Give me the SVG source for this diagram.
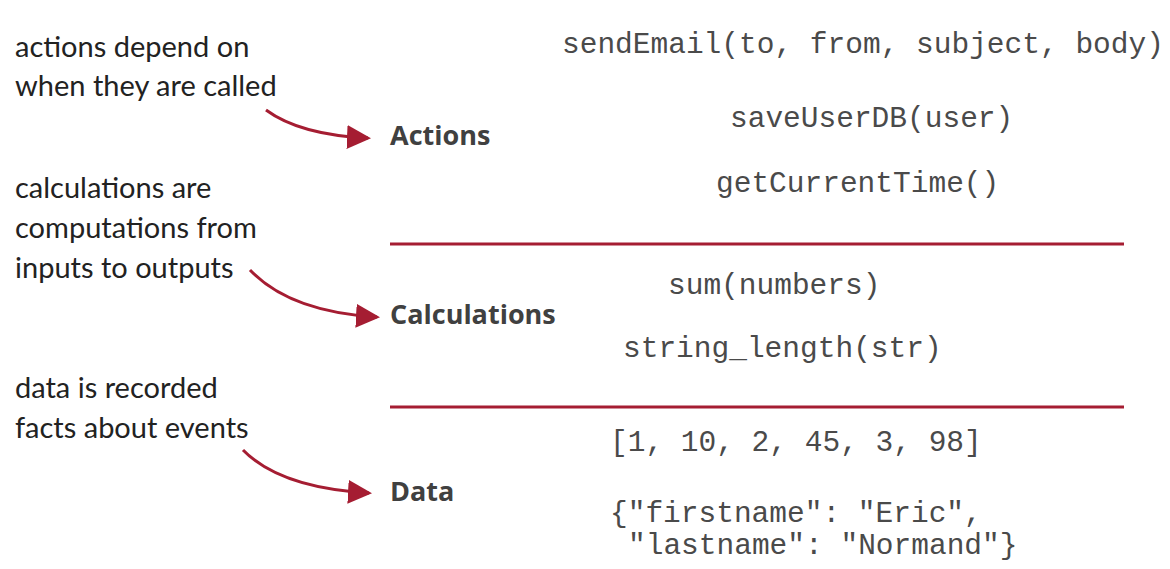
<svg xmlns="http://www.w3.org/2000/svg" width="1170" height="569" viewBox="0 0 1170 569">
  <style>
    .note { font-family: "Lato", "Open Sans", sans-serif; font-size: 29px; fill: #222; }
    .tier { font-family: "Open Sans", "Liberation Sans", sans-serif; font-size: 27px; font-weight: bold; fill: #404040; }
    .code { font-family: "Liberation Mono", "Courier New", monospace; font-size: 29.5px; fill: #4a4a4a; }
    .rule { stroke: #a51d32; stroke-width: 3; }
    .link { fill: none; stroke: #a51d32; stroke-width: 3; marker-end: url(#head); }
  </style>
  <defs>
    <marker id="head" markerWidth="8" markerHeight="8" refX="7" refY="4" orient="auto" markerUnits="strokeWidth">
      <path d="M0,0 L8,4 L0,8 z" fill="#a51d32"/>
    </marker>
  </defs>
  <rect width="1170" height="569" fill="#ffffff"/>

  <!-- tier separators -->
  <g id="separators">
    <line class="rule" x1="390" y1="244" x2="1124" y2="244"/>
    <line class="rule" x1="390" y1="407" x2="1124" y2="407"/>
  </g>

  <!-- explanatory notes -->
  <g id="note-actions">
    <text class="note" x="15" y="57">actions depend on</text>
    <text class="note" x="15" y="96">when they are called</text>
  </g>
  <g id="note-calculations">
    <text class="note" x="15" y="198">calculations are</text>
    <text class="note" x="15" y="238">computations from</text>
    <text class="note" x="15" y="278">inputs to outputs</text>
  </g>
  <g id="note-data">
    <text class="note" x="15" y="398">data is recorded</text>
    <text class="note" x="15" y="438">facts about events</text>
  </g>

  <!-- tiers -->
  <g id="tier-actions">
    <text class="tier" x="390" y="145">Actions</text>
    <text class="code" x="562" y="53">sendEmail(to, from, subject, body)</text>
    <text class="code" x="730" y="127">saveUserDB(user)</text>
    <text class="code" x="716" y="192">getCurrentTime()</text>
  </g>
  <g id="tier-calculations">
    <text class="tier" x="390" y="324">Calculations</text>
    <text class="code" x="668" y="294">sum(numbers)</text>
    <text class="code" x="623" y="357">string_length(str)</text>
  </g>
  <g id="tier-data">
    <text class="tier" x="390" y="501">Data</text>
    <text class="code" x="610" y="451">[1, 10, 2, 45, 3, 98]</text>
    <text class="code" x="610" y="522">{"firstname": "Eric",</text>
    <text class="code" x="628" y="554">"lastname": "Normand"}</text>
  </g>

  <!-- connectors from notes to tiers -->
  <g id="connectors">
    <path class="link" d="M266,110 Q300,135 368,138"/>
    <path class="link" d="M250,270 Q290,312 377,317"/>
    <path class="link" d="M243,450 Q280,488 369,493"/>
  </g>
</svg>
